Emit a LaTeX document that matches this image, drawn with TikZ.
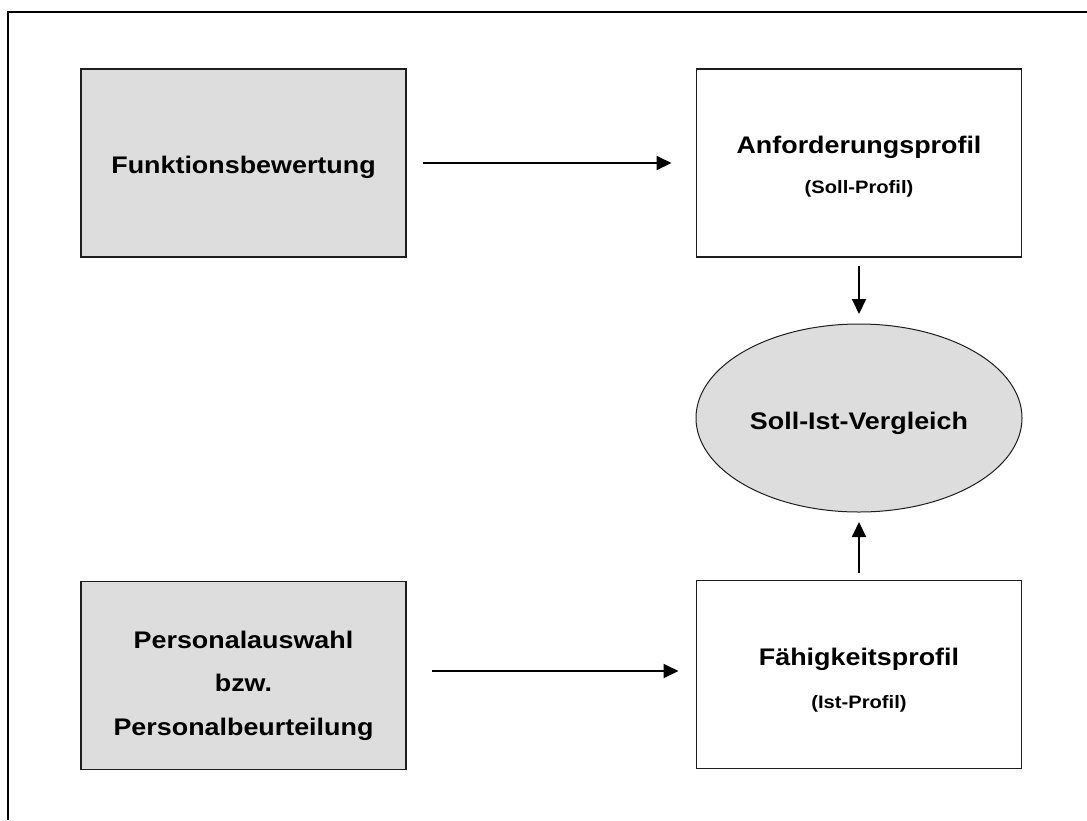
\documentclass[tikz,border=0pt]{standalone}
\usepackage{fontspec}
\setmainfont{Liberation Sans}
\usepackage{graphicx}
\usetikzlibrary{arrows.meta,shapes.geometric}
\definecolor{boxgrey}{HTML}{DDDDDD}
\definecolor{edge}{HTML}{1E1E1E}
% slightly widened lettering
\newcommand\widetext[1]{\scalebox{1.12}[1]{#1}}
\begin{document}
\begin{tikzpicture}[x=1pt,y=-1pt,
  box/.style={draw=edge, line width=1.4pt, minimum width=325pt, minimum height=188pt,
              inner sep=0pt, outer sep=0pt},
  grey/.style={fill=boxgrey},
  lbl/.style={font=\bfseries\fontsize{24}{40}\selectfont, align=center, inner sep=0pt},
  arr/.style={line width=2pt, -{Triangle[length=15pt,width=14pt]}}]
\useasboundingbox (0,0) rectangle (1087,820);
% page frame
\draw[line width=2pt] (8,820) -- (8,12) -- (1087,12);

% boxes and comparison ellipse
\node[box, grey] (fb) at (243.5,163) {};
\node[box] (ap) at (859,163) {};
\node[ellipse, draw=edge, fill=boxgrey, line width=1pt, minimum width=326pt,
      minimum height=188pt, inner sep=0pt, outer sep=0pt] (sv) at (859,418) {};
\node[box] (fp) at (859,674.5) {};
\node[box, grey] (pa) at (243.5,675.5) {};

% labels
\node[lbl] (fbt) at (243.5,167.6) {\widetext{Funktionsbewertung}};
\node[lbl] (apt) at (859,166.5) {\widetext{Anforderungsprofil}\\
  {\fontsize{18}{40}\selectfont\widetext{(Soll-Profil)}}};
\node[lbl] (svt) at (859,423) {\widetext{Soll-Ist-Vergleich}};
\node[lbl, font=\bfseries\fontsize{24}{43}\selectfont] (fpt) at (859,680) {\widetext{Fähigkeitsprofil}\\
  {\fontsize{18}{43}\selectfont\widetext{(Ist-Profil)}}};
\node[lbl, font=\bfseries\fontsize{24}{43.3}\selectfont] (pat) at (243.5,685.7)
  {\widetext{Personalauswahl}\\\widetext{bzw.}\\\widetext{Personalbeurteilung}};

% connectors
\draw[arr, shorten <=17pt, shorten >=25pt] (fb.east) -- (ap.west);
\draw[arr, shorten <=26pt, shorten >=18pt] ([yshift=4.5pt]pa.east) -- ([yshift=3.5pt]fp.west);
\draw[arr, shorten <=9pt, shorten >=10pt] (ap.south) -- (sv.north);
\draw[arr, shorten <=8pt, shorten >=10pt] (fp.north) -- (sv.south);
\end{tikzpicture}
\end{document}
